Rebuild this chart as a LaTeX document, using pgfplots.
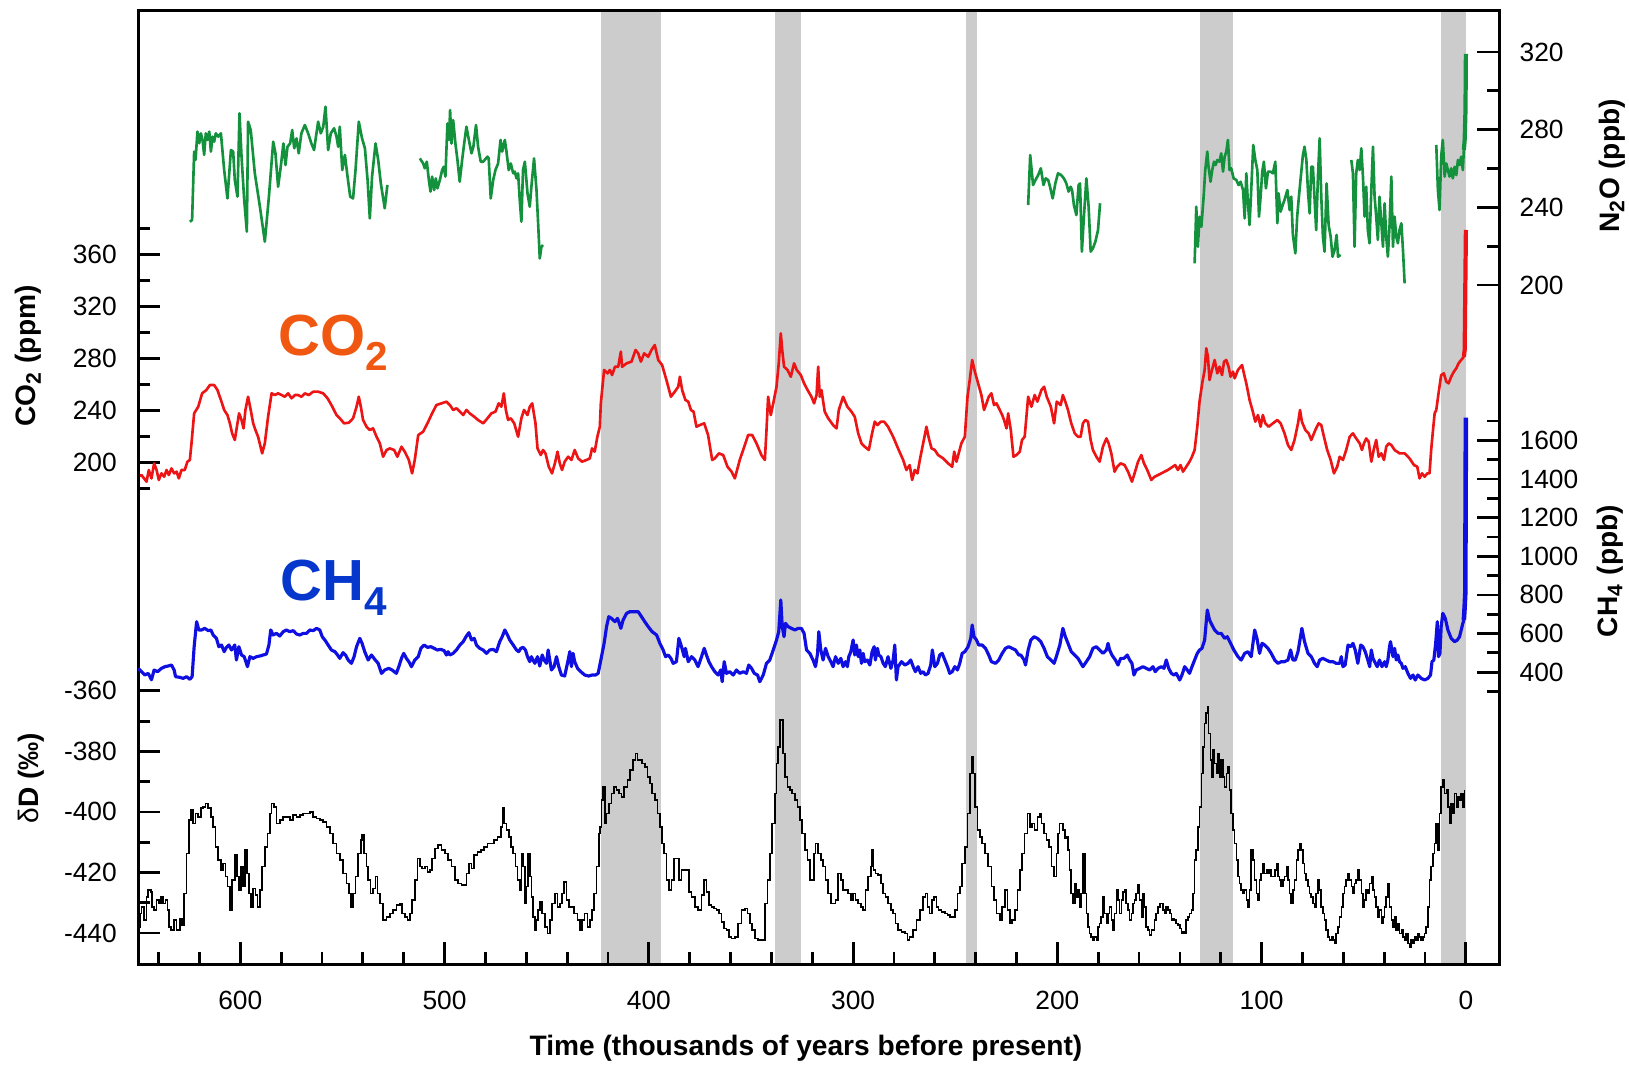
\documentclass[border=0pt]{standalone}
\usepackage{fontspec}
\setmainfont{Liberation Sans}
\usepackage{pgfplots}
\usepackage{pgfplotstable}
\pgfplotsset{compat=1.18}
\definecolor{bandgray}{RGB}{204,204,204}
\definecolor{co2red}{RGB}{236,20,20}
\definecolor{ch4line}{RGB}{15,15,225}
\definecolor{n2ogreen}{RGB}{20,145,60}
\definecolor{co2orange}{RGB}{240,88,18}
\definecolor{ch4blue}{RGB}{5,55,205}
\newcommand{\ticksfont}{\fontsize{7.5}{9}\selectfont}
\newcommand{\labfont}{\fontsize{8}{9.5}\selectfont\bfseries}
\newcommand{\bigfont}{\fontsize{16.5}{18}\selectfont\bfseries}

\pgfplotsset{
 base/.style={at={(0,0)}, anchor=south west, scale only axis,
  width=13.61cm, height=9.537cm, xmin=-16.3, xmax=650, x dir=reverse,
  tick align=inside, major tick length=0.22cm, minor tick length=0.12cm,
  every tick/.style={black, line width=0.8pt},
  axis line style={black, line width=0.8pt},
  tick label style={font=\ticksfont}},
 dataax/.style={base, axis x line=none, xtick=\empty},
}

% CO2 (ppm)
\pgfplotstableread[row sep=\\]{
x y\\
650.0 188.9\\ 648.4 190.2\\ 647.1 187.6\\ 645.9 185.1\\ 644.8 194.1\\ 643.5 187.6\\
642.2 199.2\\ 641.0 194.1\\ 639.9 186.4\\ 638.6 191.5\\ 637.3 188.9\\ 636.1 194.1\\
635.0 190.2\\ 633.7 195.3\\ 632.4 191.5\\ 631.2 192.8\\ 630.1 187.6\\ 628.8 194.1\\
627.2 194.1\\ 625.9 200.5\\ 624.7 201.8\\ 623.9 214.6\\ 622.6 237.7\\ 620.6 242.8\\
618.7 253.1\\ 616.6 255.7\\ 614.9 259.5\\ 612.8 259.5\\ 611.2 255.7\\ 609.5 248.0\\
607.9 240.3\\ 606.3 236.4\\ 605.1 230.0\\ 604.0 222.3\\ 602.7 217.2\\ 601.4 230.0\\
600.6 237.7\\ 599.4 232.6\\ 598.4 226.1\\ 597.5 240.3\\ 596.2 250.5\\ 594.9 240.3\\
593.7 230.0\\ 592.6 224.9\\ 591.3 219.7\\ 589.3 206.9\\ 588.0 214.6\\ 586.4 235.1\\
584.7 253.1\\ 583.1 251.8\\ 581.5 253.1\\ 579.8 251.8\\ 578.2 250.5\\ 576.6 253.1\\
574.9 249.3\\ 573.3 251.8\\ 571.7 251.8\\ 570.1 250.5\\ 568.4 253.1\\ 566.5 251.8\\
564.3 254.4\\ 561.9 254.4\\ 559.4 253.1\\ 557.3 249.3\\ 555.4 244.1\\ 552.9 236.4\\
551.3 233.9\\ 549.2 230.0\\ 546.9 230.5\\ 544.8 233.9\\ 543.1 242.8\\ 542.0 250.5\\
541.0 242.8\\ 539.9 232.6\\ 538.2 227.4\\ 536.6 224.9\\ 535.0 226.1\\ 533.3 219.7\\
531.7 214.6\\ 530.1 204.3\\ 528.4 209.5\\ 526.8 210.7\\ 524.7 209.5\\ 523.1 204.3\\
521.1 212.0\\ 519.5 208.2\\ 517.5 201.8\\ 515.9 191.5\\ 514.6 201.8\\ 512.9 221.0\\
510.5 223.6\\ 508.4 230.0\\ 506.1 237.7\\ 504.0 244.1\\ 501.5 245.4\\ 499.1 246.7\\
497.4 244.1\\ 495.8 240.3\\ 494.2 241.6\\ 492.5 239.0\\ 490.9 236.4\\ 489.3 240.3\\
487.7 237.7\\ 485.5 235.1\\ 483.6 232.6\\ 481.1 230.0\\ 479.0 233.9\\ 477.1 237.7\\
475.1 239.0\\ 473.5 245.4\\ 472.2 242.8\\ 471.0 253.1\\ 470.0 240.3\\ 468.9 232.6\\
467.6 233.9\\ 465.9 230.0\\ 464.0 219.7\\ 462.4 233.9\\ 461.1 240.3\\ 459.4 236.4\\
458.3 242.8\\ 457.1 245.4\\ 455.5 230.0\\ 454.5 210.7\\ 452.9 205.6\\ 451.8 209.5\\
450.6 206.9\\ 449.0 196.6\\ 447.4 191.5\\ 446.0 199.2\\ 444.7 208.2\\ 443.6 199.2\\
442.5 194.1\\ 441.2 200.5\\ 439.5 204.3\\ 437.9 201.8\\ 436.3 209.5\\ 434.6 203.0\\
432.7 200.5\\ 430.5 201.8\\ 428.9 203.0\\ 427.8 210.7\\ 426.5 208.2\\ 425.2 219.7\\
424.0 227.4\\ 423.5 245.4\\ 421.9 271.1\\ 420.2 268.5\\ 419.1 271.1\\ 418.0 267.2\\
416.6 273.6\\ 415.0 273.6\\ 413.7 285.2\\ 413.1 273.6\\ 410.9 276.2\\ 408.5 277.5\\
406.5 286.5\\ 405.2 283.9\\ 403.9 277.5\\ 402.3 283.9\\ 400.3 281.3\\ 398.7 286.5\\
397.1 290.3\\ 395.4 278.8\\ 393.5 274.9\\ 391.4 263.4\\ 389.2 250.5\\ 387.3 254.4\\
385.6 258.2\\ 384.8 265.9\\ 383.7 255.7\\ 382.1 248.0\\ 380.7 246.7\\ 379.4 240.3\\
378.1 239.0\\ 376.7 227.4\\ 375.0 228.7\\ 372.9 230.0\\ 371.0 221.0\\ 369.0 201.8\\
367.7 203.0\\ 365.7 206.9\\ 363.6 205.6\\ 361.5 196.6\\ 359.5 192.8\\ 357.9 187.6\\
355.5 201.8\\ 353.0 213.3\\ 351.4 221.0\\ 349.4 221.0\\ 347.3 214.6\\ 344.9 205.6\\
343.2 201.8\\ 342.4 224.9\\ 341.6 250.5\\ 340.3 236.4\\ 339.1 245.4\\ 337.5 258.2\\
336.4 276.2\\ 335.4 299.3\\ 334.7 286.5\\ 333.8 273.6\\ 332.1 271.1\\ 330.5 265.9\\
328.9 276.2\\ 327.6 271.1\\ 325.6 267.2\\ 324.0 260.8\\ 322.3 255.7\\ 320.4 250.5\\
319.1 245.4\\ 317.9 251.8\\ 317.1 273.6\\ 316.3 250.5\\ 315.5 255.7\\ 313.9 239.0\\
312.2 233.9\\ 309.8 228.7\\ 308.1 226.1\\ 307.0 240.3\\ 304.9 250.5\\ 302.8 242.8\\
300.8 239.0\\ 299.2 235.1\\ 297.5 222.3\\ 295.9 214.6\\ 294.3 212.0\\ 292.3 209.5\\
290.7 222.3\\ 289.4 231.3\\ 288.1 228.7\\ 286.4 231.3\\ 284.8 231.3\\ 282.9 227.4\\
280.4 219.7\\ 278.0 210.7\\ 275.5 201.8\\ 273.9 194.1\\ 272.3 197.9\\ 271.1 186.4\\
269.8 194.1\\ 268.5 191.5\\ 267.2 203.0\\ 265.7 214.6\\ 264.1 227.4\\ 262.9 218.4\\
261.6 210.7\\ 260.0 209.5\\ 258.4 205.6\\ 255.9 203.0\\ 253.5 199.2\\ 251.5 196.6\\
250.5 208.2\\ 249.4 200.5\\ 248.3 206.9\\ 247.0 214.6\\ 245.3 219.7\\ 244.0 250.5\\
242.9 263.4\\ 241.7 278.8\\ 240.4 269.8\\ 238.8 260.8\\ 237.2 251.8\\ 235.9 240.3\\
234.7 245.4\\ 233.6 250.5\\ 232.3 253.1\\ 231.0 244.1\\ 229.8 245.4\\ 228.2 240.3\\
227.0 236.4\\ 226.1 232.6\\ 224.9 226.1\\ 224.1 237.7\\ 222.8 224.9\\ 221.5 204.3\\
220.0 205.6\\ 218.4 208.2\\ 217.3 217.2\\ 216.0 219.7\\ 214.3 250.5\\ 212.7 242.8\\
211.1 251.8\\ 209.8 246.7\\ 207.8 255.7\\ 206.5 258.2\\ 205.2 250.5\\ 203.2 242.8\\
201.6 230.0\\ 200.3 246.7\\ 198.4 244.1\\ 197.3 251.8\\ 196.1 246.7\\ 194.8 240.3\\
193.2 230.0\\ 191.5 222.3\\ 189.9 219.7\\ 188.6 219.7\\ 187.5 230.0\\ 186.3 232.6\\
185.0 231.3\\ 183.7 217.2\\ 182.6 209.5\\ 180.9 204.3\\ 179.3 200.5\\ 177.7 212.0\\
176.0 218.4\\ 174.9 214.6\\ 173.6 206.9\\ 172.0 192.8\\ 170.7 196.6\\ 169.0 199.2\\
167.1 197.9\\ 165.4 192.8\\ 163.5 185.1\\ 162.2 191.5\\ 160.5 200.5\\ 158.9 205.6\\
157.6 199.2\\ 156.0 194.1\\ 154.0 186.4\\ 152.4 188.9\\ 149.1 191.5\\ 145.9 194.1\\
142.3 197.9\\ 141.0 194.1\\ 139.7 197.9\\ 138.5 192.8\\ 136.9 196.6\\ 135.3 200.5\\
134.1 204.3\\ 132.8 209.5\\ 131.5 227.4\\ 130.4 246.7\\ 129.1 260.8\\ 127.9 271.1\\
127.1 287.8\\ 126.3 281.3\\ 125.5 263.4\\ 124.3 271.1\\ 123.0 278.8\\ 121.7 268.5\\
120.6 273.6\\ 119.4 267.2\\ 118.4 277.5\\ 117.3 278.8\\ 116.2 273.6\\ 115.2 265.9\\
114.0 269.8\\ 113.2 264.7\\ 111.6 271.1\\ 109.6 274.9\\ 108.3 265.9\\ 107.5 260.8\\
105.9 248.0\\ 104.3 239.0\\ 103.1 231.3\\ 101.8 236.4\\ 100.5 227.4\\ 99.4 236.4\\
98.2 230.0\\ 96.6 227.4\\ 94.5 230.0\\ 92.3 232.6\\ 90.7 230.0\\ 88.8 222.3\\
87.1 213.3\\ 85.5 209.5\\ 83.9 217.2\\ 82.2 230.0\\ 81.2 240.3\\ 80.3 231.3\\
78.6 224.9\\ 77.0 222.3\\ 75.7 217.2\\ 73.7 224.9\\ 72.1 230.0\\ 70.8 228.7\\
69.5 219.7\\ 67.9 209.5\\ 66.2 201.8\\ 64.6 191.5\\ 63.0 196.6\\ 61.8 204.3\\
60.2 201.8\\ 58.6 209.5\\ 56.9 219.7\\ 55.3 222.3\\ 53.7 218.4\\ 52.0 214.6\\
50.9 209.5\\ 49.9 214.6\\ 48.8 218.4\\ 47.6 215.9\\ 46.3 200.5\\ 45.0 210.7\\
43.9 217.2\\ 42.7 204.3\\ 41.4 206.9\\ 40.1 201.8\\ 39.0 212.0\\ 37.8 214.6\\
36.5 213.3\\ 34.9 209.5\\ 32.5 206.9\\ 30.0 206.9\\ 27.6 203.0\\ 25.4 197.9\\
23.8 196.6\\ 22.7 187.6\\ 21.5 191.5\\ 20.2 188.9\\ 18.9 191.5\\ 17.8 191.5\\
17.0 209.5\\ 16.1 224.9\\ 15.3 237.7\\ 14.5 240.3\\ 13.4 253.1\\ 12.1 267.2\\
10.8 268.5\\ 9.6 262.1\\ 8.5 260.8\\ 7.2 265.9\\ 5.9 269.8\\ 4.7 272.4\\
3.6 276.2\\ 2.3 278.8\\ 1.0 281.3\\
}\coTable

% CH4 (ppb)
\pgfplotstableread[row sep=\\]{
x y\\
650.0 420.0\\ 648.4 402.7\\ 646.7 385.5\\ 645.1 394.1\\ 643.5 360.9\\ 642.2 411.4\\
640.5 402.7\\ 638.6 420.0\\ 636.9 428.6\\ 635.3 432.1\\ 633.7 437.2\\ 632.4 411.4\\
631.7 376.9\\ 629.6 373.4\\ 628.0 368.2\\ 626.3 376.9\\ 624.7 363.1\\ 623.6 376.9\\
622.6 532.1\\ 621.4 661.5\\ 620.3 618.4\\ 619.0 618.4\\ 617.4 627.0\\ 615.7 614.9\\
614.4 618.4\\ 613.3 592.5\\ 611.7 575.2\\ 610.5 532.1\\ 609.2 540.7\\ 607.9 506.2\\
606.8 528.6\\ 605.6 540.7\\ 604.3 514.9\\ 602.7 540.7\\ 601.9 463.1\\ 600.7 532.1\\
599.4 489.0\\ 598.1 480.4\\ 596.5 428.6\\ 595.3 480.4\\ 593.7 471.7\\ 592.1 480.4\\
590.4 483.8\\ 588.8 489.0\\ 587.2 494.2\\ 586.0 540.7\\ 585.1 618.4\\ 583.9 592.5\\
582.3 601.1\\ 580.7 587.3\\ 579.0 609.7\\ 577.4 618.4\\ 575.8 609.7\\ 574.1 614.9\\
572.5 597.7\\ 570.9 592.5\\ 569.2 601.1\\ 567.6 601.1\\ 566.0 618.4\\ 564.3 614.9\\
562.7 627.0\\ 561.1 618.4\\ 559.9 583.8\\ 558.6 566.6\\ 557.0 540.7\\ 555.4 514.9\\
553.7 506.2\\ 552.4 489.0\\ 551.3 471.7\\ 549.7 501.1\\ 548.5 489.0\\ 547.2 463.1\\
545.6 445.9\\ 544.3 480.4\\ 543.1 532.1\\ 541.5 575.2\\ 540.4 549.4\\ 539.1 506.2\\
537.4 463.1\\ 535.8 489.0\\ 534.2 466.6\\ 532.5 445.9\\ 530.9 394.1\\ 529.3 411.4\\
527.3 420.0\\ 525.7 411.4\\ 523.6 394.1\\ 522.4 428.6\\ 521.1 471.7\\ 520.0 497.6\\
518.7 471.7\\ 517.5 454.5\\ 516.2 428.6\\ 514.6 463.1\\ 512.9 480.4\\ 511.6 523.5\\
510.0 540.7\\ 508.4 528.6\\ 506.7 532.1\\ 505.1 523.5\\ 503.5 514.9\\ 501.9 518.3\\
500.2 511.4\\ 499.1 489.0\\ 498.3 506.2\\ 497.4 489.0\\ 495.8 497.6\\ 494.2 514.9\\
492.5 540.7\\ 490.9 558.0\\ 489.3 587.3\\ 488.1 604.5\\ 486.8 566.6\\ 485.5 575.2\\
484.4 540.7\\ 482.8 523.5\\ 481.1 514.9\\ 479.5 497.6\\ 477.9 514.9\\ 476.2 518.3\\
474.6 506.2\\ 473.0 558.0\\ 471.8 583.8\\ 470.5 618.4\\ 469.2 592.5\\ 468.1 566.6\\
466.4 540.7\\ 464.8 514.9\\ 463.7 506.2\\ 462.7 523.5\\ 461.6 528.6\\ 460.4 514.9\\
459.4 480.4\\ 458.3 454.5\\ 457.5 480.4\\ 456.7 463.1\\ 455.8 445.9\\ 454.5 480.4\\
453.4 432.1\\ 452.2 489.0\\ 451.3 463.1\\ 450.1 445.9\\ 449.3 514.9\\ 448.5 463.1\\
447.7 411.4\\ 446.4 428.6\\ 445.2 480.4\\ 444.1 428.6\\ 442.8 385.5\\ 441.2 380.3\\
439.5 463.1\\ 438.7 506.2\\ 437.9 428.6\\ 437.1 497.6\\ 436.3 454.5\\ 434.9 420.0\\
433.3 402.7\\ 431.4 385.5\\ 429.4 380.3\\ 427.8 385.5\\ 426.1 385.5\\ 424.8 394.1\\
423.5 463.1\\ 421.9 549.4\\ 420.7 635.6\\ 419.6 687.4\\ 418.3 678.7\\ 416.6 661.5\\
415.3 678.7\\ 413.7 627.0\\ 412.6 670.1\\ 410.9 704.6\\ 409.3 713.2\\ 406.9 713.2\\
405.2 713.2\\ 403.6 687.4\\ 402.0 661.5\\ 400.3 635.6\\ 398.4 609.7\\ 396.2 592.5\\
394.6 549.4\\ 393.0 514.9\\ 391.8 480.4\\ 390.5 489.0\\ 389.2 471.7\\ 388.1 445.9\\
386.5 454.5\\ 385.3 575.2\\ 384.0 532.1\\ 382.7 480.4\\ 382.1 523.5\\ 380.7 454.5\\
379.1 480.4\\ 377.5 463.1\\ 375.9 428.6\\ 374.2 480.4\\ 372.9 523.5\\ 371.8 489.0\\
370.6 454.5\\ 369.3 428.6\\ 367.7 402.7\\ 366.1 385.5\\ 364.8 411.4\\ 364.1 350.9\\
363.1 454.5\\ 362.0 394.1\\ 360.4 402.7\\ 358.7 385.5\\ 357.1 411.4\\ 355.5 394.1\\
353.8 402.7\\ 352.2 394.1\\ 351.1 437.2\\ 349.7 420.0\\ 348.4 394.1\\ 346.8 385.5\\
345.7 350.9\\ 344.0 385.5\\ 342.4 445.9\\ 340.8 463.1\\ 339.1 514.9\\ 337.5 566.6\\
336.4 609.7\\ 335.4 773.6\\ 334.7 635.6\\ 333.8 583.8\\ 333.1 652.9\\ 331.8 635.6\\
330.2 627.0\\ 328.5 618.4\\ 326.9 627.0\\ 325.3 627.0\\ 324.0 601.1\\ 322.8 514.9\\
321.2 497.6\\ 319.6 463.1\\ 318.4 428.6\\ 317.4 497.6\\ 316.8 609.7\\ 315.8 514.9\\
314.7 463.1\\ 313.5 523.5\\ 312.2 480.4\\ 310.9 454.5\\ 309.8 428.6\\ 308.6 480.4\\
307.3 445.9\\ 306.0 471.7\\ 304.9 428.6\\ 303.7 454.5\\ 302.8 428.6\\ 302.1 480.4\\
301.1 506.2\\ 300.0 566.6\\ 299.2 489.0\\ 298.4 540.7\\ 297.5 480.4\\ 296.7 514.9\\
295.9 445.9\\ 295.1 497.6\\ 294.3 454.5\\ 293.0 463.1\\ 291.8 437.2\\ 290.7 506.2\\
289.7 532.1\\ 289.1 463.1\\ 288.1 523.5\\ 287.4 489.0\\ 286.4 480.4\\ 285.3 445.9\\
284.2 428.6\\ 282.9 480.4\\ 281.5 420.0\\ 280.4 463.1\\ 279.6 540.7\\ 278.8 359.6\\
278.0 428.6\\ 276.3 454.5\\ 274.7 437.2\\ 273.1 445.9\\ 271.8 463.1\\ 270.6 428.6\\
269.5 402.7\\ 268.2 428.6\\ 266.9 394.1\\ 265.7 402.7\\ 264.6 385.5\\ 263.3 394.1\\
262.0 437.2\\ 261.2 514.9\\ 260.0 428.6\\ 258.7 445.9\\ 257.6 489.0\\ 256.4 497.6\\
255.1 463.1\\ 253.8 428.6\\ 252.7 394.1\\ 251.5 402.7\\ 250.2 428.6\\ 248.9 411.4\\
247.8 445.9\\ 246.6 497.6\\ 245.3 506.2\\ 243.7 532.1\\ 242.4 575.2\\ 241.7 644.2\\
240.8 583.8\\ 239.6 566.6\\ 238.5 540.7\\ 236.8 540.7\\ 235.2 523.5\\ 233.6 489.0\\
232.3 454.5\\ 230.3 445.9\\ 228.7 463.1\\ 227.0 497.6\\ 225.4 523.5\\ 223.8 532.1\\
222.2 523.5\\ 220.5 514.9\\ 218.9 489.0\\ 217.9 489.0\\ 216.3 463.1\\ 215.6 437.2\\
214.3 514.9\\ 213.0 566.6\\ 211.4 583.8\\ 209.8 575.2\\ 208.1 558.0\\ 206.5 523.5\\
204.9 480.4\\ 203.2 463.1\\ 201.6 445.9\\ 200.5 480.4\\ 198.8 540.7\\ 197.3 627.0\\
196.1 583.8\\ 194.8 549.4\\ 193.2 506.2\\ 191.5 489.0\\ 189.9 471.7\\ 187.5 428.6\\
185.8 454.5\\ 184.2 480.4\\ 182.6 523.5\\ 180.9 532.1\\ 179.3 514.9\\ 177.7 497.6\\
176.0 514.9\\ 175.2 549.4\\ 174.4 514.9\\ 173.3 489.0\\ 171.6 463.1\\ 170.3 437.2\\
169.0 471.7\\ 167.4 471.7\\ 165.8 489.0\\ 164.6 463.1\\ 163.5 445.9\\ 162.5 385.5\\
161.4 411.4\\ 159.7 420.0\\ 158.1 428.6\\ 156.5 420.0\\ 154.8 411.4\\ 153.2 428.6\\
152.1 402.7\\ 150.7 420.0\\ 149.1 428.6\\ 147.8 420.0\\ 146.7 463.1\\ 145.5 420.0\\
144.2 394.1\\ 142.9 385.5\\ 141.8 394.1\\ 140.1 359.6\\ 139.0 385.5\\ 137.7 428.6\\
136.4 411.4\\ 135.3 394.1\\ 134.1 428.6\\ 132.8 463.1\\ 131.5 497.6\\ 130.4 514.9\\
129.2 523.5\\ 127.9 566.6\\ 126.6 721.9\\ 125.5 670.1\\ 124.3 644.2\\ 123.0 618.4\\
121.4 601.1\\ 119.8 601.1\\ 118.1 575.2\\ 116.8 583.8\\ 115.2 549.4\\ 113.6 514.9\\
111.6 480.4\\ 110.0 463.1\\ 108.3 497.6\\ 106.7 506.2\\ 105.1 480.4\\ 103.4 618.4\\
102.3 575.2\\ 101.0 497.6\\ 99.8 549.4\\ 98.5 540.7\\ 96.9 523.5\\ 95.3 497.6\\
93.6 463.1\\ 92.0 445.9\\ 90.4 454.5\\ 88.8 454.5\\ 87.1 463.1\\ 85.8 514.9\\
84.7 463.1\\ 83.5 463.1\\ 82.2 506.2\\ 81.1 575.2\\ 80.3 627.0\\ 79.0 558.0\\
77.3 497.6\\ 75.7 480.4\\ 74.1 445.9\\ 72.8 428.6\\ 71.6 463.1\\ 70.0 471.7\\
68.4 463.1\\ 66.7 454.5\\ 65.1 454.5\\ 63.5 445.9\\ 61.8 445.9\\ 61.0 480.4\\
60.2 428.6\\ 59.1 437.2\\ 57.7 540.7\\ 56.4 532.1\\ 55.3 549.4\\ 54.2 514.9\\
52.9 445.9\\ 51.5 540.7\\ 50.4 532.1\\ 49.3 506.2\\ 48.0 463.1\\ 47.1 428.6\\
46.3 514.9\\ 45.5 471.7\\ 44.7 454.5\\ 43.4 428.6\\ 42.3 463.1\\ 41.1 428.6\\
39.8 454.5\\ 39.0 428.6\\ 38.2 463.1\\ 37.4 532.1\\ 36.9 558.0\\ 35.7 480.4\\
34.9 523.5\\ 34.1 463.1\\ 33.3 489.0\\ 32.5 454.5\\ 31.6 445.9\\ 30.8 420.0\\
29.7 428.6\\ 28.4 394.1\\ 27.1 368.2\\ 25.9 385.5\\ 24.8 359.6\\ 23.5 385.5\\
21.9 368.2\\ 20.2 359.6\\ 18.6 368.2\\ 17.3 385.5\\ 16.6 454.5\\ 15.7 463.1\\
14.8 549.4\\ 14.0 661.5\\ 13.4 480.4\\ 12.7 497.6\\ 12.1 635.6\\ 11.3 704.6\\
10.1 678.7\\ 8.8 618.4\\ 7.2 575.2\\ 5.5 558.0\\ 4.2 566.6\\ 3.1 583.8\\
1.9 635.6\\ 1.5 652.9\\ 1.0 670.1\\
}\chTable

% N2O (ppb), gaps as nan
\pgfplotstableread[row sep=\\]{
x y\\
624.7 232.6\\ 623.6 233.5\\ 622.6 268.7\\ 621.9 264.4\\ 621.0 279.0\\ 620.1 273.0\\
619.3 278.1\\ 618.5 274.7\\ 617.7 267.0\\ 616.9 278.1\\ 616.1 274.7\\ 615.2 279.0\\
614.4 268.7\\ 613.6 276.4\\ 612.8 273.8\\ 612.0 278.1\\ 610.8 276.4\\ 609.5 278.1\\
607.9 259.2\\ 606.3 244.6\\ 604.6 269.5\\ 603.5 268.7\\ 602.7 254.1\\ 601.4 245.5\\
600.4 288.4\\ 599.4 266.1\\ 598.1 243.8\\ 596.8 227.5\\ 596.2 284.1\\ 594.9 279.8\\
592.9 257.5\\ 590.4 240.3\\ 588.0 222.3\\ 586.0 245.5\\ 583.9 273.8\\ 582.8 267.8\\
581.5 250.6\\ 580.2 260.9\\ 578.9 272.9\\ 577.9 261.8\\ 576.9 271.2\\ 575.6 272.9\\
574.6 279.8\\ 573.6 270.4\\ 572.5 275.5\\ 571.4 267.8\\ 570.1 278.1\\ 568.4 282.4\\
566.8 278.1\\ 565.2 272.9\\ 563.9 269.5\\ 561.9 284.1\\ 560.6 278.1\\ 559.4 281.5\\
558.3 291.8\\ 557.0 269.5\\ 555.7 278.1\\ 554.1 280.7\\ 552.9 276.4\\ 552.1 271.2\\
551.3 281.5\\ 550.1 259.2\\ 548.8 267.0\\ 547.5 255.8\\ 546.2 245.5\\ 544.8 244.6\\
543.6 259.2\\ 542.0 284.1\\ 540.4 275.5\\ 539.0 270.4\\ 537.7 254.1\\ 536.6 234.3\\
535.5 255.8\\ 533.8 272.9\\ 532.5 264.4\\ 531.2 252.3\\ 529.3 239.5\\ 528.0 251.5\\
nan nan\\
512.1 265.2\\ 510.5 262.6\\ 509.7 260.1\\ 508.7 263.5\\ 507.7 254.1\\ 506.9 248.1\\
506.1 255.8\\ 505.1 248.9\\ 504.3 254.9\\ 503.5 249.8\\ 502.3 254.1\\ 501.2 259.2\\
500.4 260.9\\ 499.6 255.8\\ 498.6 283.2\\ 497.8 274.7\\ 497.3 290.1\\ 496.6 272.9\\
495.8 284.9\\ 494.7 272.9\\ 493.7 264.4\\ 492.6 253.2\\ 491.4 264.4\\ 490.4 272.9\\
489.3 281.5\\ 488.1 274.7\\ 486.8 267.8\\ 485.9 271.2\\ 484.6 282.4\\ 483.6 271.2\\
482.3 263.5\\ 481.1 263.5\\ 479.0 266.1\\ 478.4 265.2\\ 477.4 244.6\\ 476.2 254.1\\
475.1 259.2\\ 473.8 262.6\\ 472.6 274.7\\ 471.8 268.7\\ 470.5 274.7\\ 469.7 268.7\\
468.6 259.2\\ 467.6 262.6\\ 466.4 257.5\\ 465.6 258.4\\ 464.8 254.9\\ 464.0 257.5\\
463.2 243.8\\ 462.4 232.6\\ 461.6 259.2\\ 460.7 263.5\\ 459.4 247.2\\ 458.3 240.3\\
457.5 250.6\\ 456.2 265.2\\ 455.0 248.9\\ 454.2 231.8\\ 453.4 213.7\\ 452.6 219.7\\
451.8 220.6\\
nan nan\\
214.3 241.2\\ 213.3 266.9\\ 211.9 251.5\\ 210.7 254.1\\ 209.4 256.6\\ 208.1 260.1\\
206.8 251.5\\ 205.7 254.9\\ 204.5 254.1\\ 203.6 250.6\\ 202.3 244.6\\ 201.0 252.3\\
199.7 257.5\\ 198.1 256.6\\ 196.8 254.9\\ 195.6 252.3\\ 194.5 248.1\\ 193.5 250.6\\
192.8 248.9\\ 191.9 241.2\\ 190.7 236.0\\ 189.6 251.5\\ 188.9 252.3\\ 188.0 217.2\\
187.0 235.2\\ 185.8 254.9\\ 184.7 240.3\\ 183.7 217.2\\ 182.6 218.9\\ 181.4 222.3\\
180.1 228.3\\ 179.1 242.1\\
nan nan\\
132.8 211.2\\ 132.0 240.3\\ 131.2 219.7\\ 130.4 235.2\\ 129.5 230.0\\ 128.4 245.5\\
127.6 259.2\\ 126.6 268.7\\ 126.0 260.9\\ 125.0 253.2\\ 124.2 259.2\\ 123.3 263.5\\
122.5 261.8\\ 121.7 264.4\\ 120.6 263.5\\ 119.8 267.8\\ 118.9 258.4\\ 118.1 266.1\\
117.3 268.7\\ 116.5 274.7\\ 115.7 259.2\\ 114.9 260.1\\ 113.7 254.9\\ 112.4 254.1\\
111.3 251.5\\ 110.3 253.2\\ 109.1 248.9\\ 108.3 234.3\\ 107.5 257.5\\ 106.7 242.1\\
105.9 230.9\\ 105.1 248.9\\ 104.1 272.1\\ 103.1 264.4\\ 102.1 259.2\\ 101.3 235.2\\
100.5 245.5\\ 99.7 258.4\\ 98.9 263.5\\ 97.9 249.8\\ 96.9 258.4\\ 95.6 258.4\\
94.5 257.5\\ 93.3 263.5\\ 92.3 231.8\\ 91.7 247.2\\ 90.7 237.8\\ 89.7 241.2\\
88.8 243.8\\ 87.4 248.9\\ 86.3 238.6\\ 85.5 245.5\\ 84.7 225.8\\ 83.5 216.3\\
82.6 235.2\\ 81.9 243.8\\ 80.9 254.9\\ 79.8 266.9\\ 79.0 271.2\\ 78.1 264.4\\
77.3 248.1\\ 76.5 236.9\\ 75.7 260.9\\ 74.9 260.9\\ 74.1 244.6\\ 73.3 228.3\\
72.4 256.6\\ 71.6 275.5\\ 70.8 245.5\\ 70.0 224.9\\ 69.2 217.2\\ 68.2 252.3\\
67.2 230.9\\ 66.2 224.9\\ 65.3 214.6\\ 64.3 218.0\\ 63.3 225.8\\ 62.6 214.6\\
61.3 215.5\\
nan nan\\
56.1 264.4\\ 55.3 257.5\\ 54.5 219.7\\ 53.7 257.5\\ 52.9 264.4\\ 52.0 259.2\\
51.2 270.4\\ 50.4 255.8\\ 49.6 235.2\\ 48.8 250.6\\ 48.0 228.3\\ 47.2 221.5\\
46.3 248.9\\ 45.5 271.2\\ 44.7 245.5\\ 43.9 235.2\\ 43.1 223.2\\ 42.3 245.5\\
41.4 231.8\\ 40.6 219.7\\ 39.8 242.1\\ 39.0 224.9\\ 38.2 214.6\\ 37.4 230.0\\
36.5 255.8\\ 35.7 219.7\\ 34.9 235.2\\ 34.1 224.9\\ 33.3 221.5\\ 32.5 228.3\\
31.6 231.8\\ 30.8 218.0\\ 30.0 200.9\\
nan nan\\
14.5 272.1\\ 13.7 248.9\\ 12.9 238.6\\ 12.1 266.1\\ 11.3 274.7\\ 10.4 255.8\\
9.6 262.6\\ 8.8 259.2\\ 8.0 255.8\\ 7.2 260.1\\ 6.4 254.9\\ 5.5 260.9\\
4.7 256.6\\ 3.9 264.4\\ 3.1 261.8\\ 2.3 266.1\\ 1.5 259.2\\ 1.0 269.5\\
}\noTable

% deltaD (permil)
\pgfplotstableread[row sep=\\]{
x y\\
650.0 -438.0\\ 649.2 -433.6\\ 648.4 -431.4\\ 647.1 -435.8\\ 645.9 -428.1\\ 645.1 -425.8\\
643.8 -426.4\\ 643.1 -431.4\\ 642.2 -432.5\\ 641.0 -429.2\\ 639.9 -430.3\\ 638.9 -428.1\\
637.8 -430.3\\ 636.6 -429.2\\ 635.6 -432.5\\ 635.0 -438.0\\ 634.0 -439.1\\ 632.4 -435.8\\
631.2 -439.1\\ 629.6 -435.2\\ 628.5 -437.4\\ 627.5 -427.0\\ 626.3 -413.7\\ 625.2 -402.7\\
624.2 -399.4\\ 623.1 -403.8\\ 621.9 -400.5\\ 620.6 -401.6\\ 619.3 -398.8\\ 618.2 -398.3\\
617.0 -397.2\\ 615.7 -398.8\\ 614.4 -401.6\\ 613.3 -404.9\\ 612.1 -411.5\\ 610.8 -415.9\\
609.5 -419.2\\ 608.4 -417.0\\ 607.3 -421.4\\ 606.3 -424.7\\ 605.1 -432.5\\ 604.0 -422.5\\
602.7 -414.3\\ 601.7 -421.4\\ 600.7 -425.8\\ 599.7 -418.1\\ 598.6 -424.7\\ 597.8 -412.6\\
596.8 -420.3\\ 595.8 -427.0\\ 594.9 -431.4\\ 593.7 -425.3\\ 592.6 -427.5\\ 591.6 -431.4\\
590.4 -425.8\\ 589.3 -418.1\\ 588.0 -411.5\\ 586.7 -407.1\\ 585.6 -400.5\\ 584.7 -397.2\\
583.4 -398.3\\ 582.3 -403.8\\ 580.7 -402.7\\ 579.0 -401.6\\ 577.4 -401.6\\ 575.8 -402.7\\
574.1 -401.1\\ 572.5 -401.6\\ 570.9 -401.1\\ 569.2 -400.5\\ 567.6 -400.5\\ 566.0 -400.0\\
564.3 -401.6\\ 562.7 -402.2\\ 561.1 -402.7\\ 559.4 -403.3\\ 557.8 -404.9\\ 556.2 -407.1\\
554.6 -410.4\\ 552.9 -413.7\\ 551.3 -415.9\\ 549.7 -420.3\\ 548.0 -423.6\\ 546.9 -427.0\\
545.9 -431.4\\ 544.8 -427.0\\ 543.6 -421.4\\ 542.3 -413.7\\ 541.0 -409.3\\ 540.4 -407.7\\
539.4 -413.7\\ 538.2 -418.1\\ 537.4 -422.5\\ 536.3 -427.0\\ 535.0 -425.3\\ 533.8 -421.4\\
532.8 -427.0\\ 531.7 -430.3\\ 530.1 -435.8\\ 528.4 -434.7\\ 526.8 -433.6\\ 525.2 -432.5\\
523.6 -430.8\\ 521.9 -430.3\\ 520.8 -433.6\\ 519.5 -434.7\\ 518.2 -435.8\\ 517.0 -433.6\\
515.9 -429.2\\ 514.6 -422.5\\ 513.3 -415.4\\ 512.1 -418.1\\ 511.0 -418.7\\ 509.7 -418.1\\
508.4 -419.8\\ 507.2 -419.2\\ 506.1 -415.4\\ 504.8 -412.1\\ 503.2 -411.0\\ 501.5 -412.6\\
499.9 -413.7\\ 498.3 -415.9\\ 496.6 -418.1\\ 495.0 -422.5\\ 493.4 -423.6\\ 491.7 -424.2\\
490.4 -424.2\\ 489.3 -420.3\\ 488.1 -417.0\\ 486.8 -418.7\\ 485.5 -414.3\\ 483.9 -413.2\\
482.3 -412.6\\ 480.6 -411.5\\ 479.0 -410.4\\ 477.4 -410.4\\ 475.7 -409.3\\ 474.1 -408.2\\
472.5 -404.9\\ 471.7 -398.8\\ 470.9 -403.8\\ 469.7 -406.0\\ 468.6 -408.2\\ 467.6 -411.5\\
466.4 -413.7\\ 465.3 -418.1\\ 464.3 -422.5\\ 463.2 -425.8\\ 462.4 -413.7\\ 461.6 -418.1\\
460.7 -430.3\\ 459.9 -424.7\\ 459.1 -413.7\\ 458.3 -421.4\\ 457.5 -428.1\\ 456.7 -434.7\\
455.8 -439.1\\ 455.0 -435.8\\ 454.2 -432.5\\ 453.4 -429.7\\ 452.2 -433.6\\ 450.9 -438.0\\
449.6 -440.2\\ 448.5 -435.8\\ 447.4 -430.3\\ 446.0 -427.0\\ 444.7 -431.4\\ 443.6 -430.3\\
442.5 -427.0\\ 441.5 -423.1\\ 440.3 -429.2\\ 439.2 -431.4\\ 437.9 -431.4\\ 436.6 -433.6\\
434.9 -435.8\\ 433.8 -439.1\\ 432.7 -435.8\\ 431.4 -433.6\\ 430.1 -438.0\\ 428.9 -435.8\\
427.8 -432.5\\ 426.8 -427.0\\ 425.7 -418.1\\ 424.5 -407.1\\ 424.0 -404.9\\ 423.2 -396.1\\
422.4 -391.7\\ 421.5 -403.8\\ 420.7 -400.5\\ 419.6 -397.2\\ 418.3 -393.9\\ 417.0 -391.7\\
415.8 -392.8\\ 414.7 -393.9\\ 413.4 -395.0\\ 412.1 -391.7\\ 410.4 -389.5\\ 409.3 -386.2\\
407.7 -382.9\\ 406.5 -380.7\\ 405.5 -382.9\\ 404.4 -382.9\\ 403.3 -384.0\\ 402.0 -385.1\\
400.7 -388.4\\ 399.5 -390.6\\ 398.4 -393.9\\ 397.1 -396.1\\ 395.8 -400.5\\ 394.6 -404.9\\
393.5 -410.4\\ 392.5 -413.7\\ 391.4 -422.5\\ 390.2 -425.8\\ 388.9 -422.5\\ 387.6 -415.4\\
386.5 -415.4\\ 385.3 -422.5\\ 384.0 -419.2\\ 382.7 -419.2\\ 381.6 -419.2\\ 380.4 -426.4\\
379.1 -428.1\\ 377.5 -431.4\\ 375.9 -432.5\\ 374.2 -427.5\\ 372.9 -422.5\\ 371.8 -426.4\\
370.6 -430.8\\ 369.3 -431.4\\ 368.0 -431.9\\ 366.9 -432.5\\ 365.7 -433.6\\ 364.4 -436.3\\
363.1 -438.5\\ 362.0 -439.1\\ 360.8 -441.3\\ 359.5 -441.8\\ 357.9 -441.3\\ 356.3 -436.9\\
354.6 -432.5\\ 353.0 -431.9\\ 351.7 -433.6\\ 350.6 -436.9\\ 349.4 -439.1\\ 348.1 -441.8\\
346.5 -442.4\\ 344.9 -442.4\\ 343.2 -430.3\\ 341.9 -422.5\\ 340.8 -413.7\\ 339.6 -403.8\\
338.3 -393.9\\ 337.5 -384.0\\ 336.7 -378.5\\ 335.9 -369.6\\ 335.1 -369.6\\ 334.2 -380.7\\
333.4 -388.4\\ 332.1 -391.7\\ 331.0 -392.8\\ 329.8 -393.9\\ 328.5 -396.1\\ 327.2 -398.3\\
326.1 -402.7\\ 324.9 -407.1\\ 323.6 -412.6\\ 322.3 -415.9\\ 321.2 -422.5\\ 320.4 -422.5\\
319.1 -413.7\\ 318.4 -410.4\\ 317.1 -413.7\\ 315.8 -415.9\\ 314.7 -418.1\\ 313.5 -422.5\\
312.2 -427.0\\ 310.9 -430.3\\ 309.8 -430.3\\ 308.6 -429.2\\ 307.3 -420.3\\ 306.0 -422.5\\
304.9 -425.8\\ 303.7 -425.8\\ 302.4 -427.0\\ 301.1 -429.2\\ 300.0 -427.0\\ 298.8 -429.2\\
297.5 -430.3\\ 296.2 -431.4\\ 295.1 -432.5\\ 293.9 -425.8\\ 292.6 -421.4\\ 291.3 -418.1\\
290.7 -412.6\\ 290.0 -419.2\\ 289.1 -420.3\\ 287.7 -420.9\\ 286.4 -423.6\\ 285.3 -427.0\\
284.2 -428.1\\ 282.9 -430.3\\ 281.5 -432.5\\ 280.4 -433.6\\ 279.3 -436.9\\ 278.0 -439.1\\
276.3 -439.6\\ 274.7 -440.2\\ 273.4 -442.4\\ 272.3 -441.3\\ 270.6 -439.1\\ 269.0 -435.8\\
267.3 -432.5\\ 265.7 -428.1\\ 264.6 -427.0\\ 263.6 -431.4\\ 262.5 -433.6\\ 261.3 -429.2\\
260.3 -428.1\\ 259.2 -431.4\\ 258.1 -432.5\\ 256.7 -433.0\\ 255.1 -433.6\\ 253.8 -434.1\\
252.7 -434.7\\ 251.5 -434.7\\ 250.2 -432.5\\ 248.9 -427.0\\ 247.8 -424.7\\ 246.6 -417.0\\
245.3 -411.5\\ 244.0 -400.5\\ 242.9 -387.3\\ 242.1 -381.8\\ 241.2 -387.3\\ 240.4 -398.3\\
239.1 -406.0\\ 238.0 -408.2\\ 236.8 -410.4\\ 235.5 -413.7\\ 233.9 -418.1\\ 232.3 -424.7\\
231.0 -429.2\\ 229.8 -433.6\\ 228.2 -435.8\\ 227.0 -431.4\\ 225.7 -425.8\\ 224.4 -432.5\\
223.3 -436.9\\ 222.2 -435.8\\ 220.8 -432.5\\ 219.5 -425.8\\ 218.4 -419.2\\ 217.3 -413.7\\
216.0 -407.1\\ 214.7 -400.5\\ 213.5 -404.9\\ 212.4 -403.8\\ 211.1 -406.0\\ 209.8 -401.6\\
208.6 -400.5\\ 207.8 -403.8\\ 206.5 -407.1\\ 205.3 -409.3\\ 204.2 -411.5\\ 202.9 -418.1\\
201.6 -421.4\\ 200.5 -413.7\\ 199.7 -407.1\\ 198.9 -403.8\\ 198.1 -403.8\\ 197.3 -406.0\\
196.4 -408.8\\ 195.6 -408.2\\ 194.8 -412.6\\ 194.0 -419.2\\ 193.2 -427.0\\ 192.4 -430.3\\
191.5 -423.6\\ 190.7 -428.1\\ 189.9 -425.8\\ 189.1 -431.4\\ 188.3 -427.0\\ 187.5 -413.7\\
186.6 -427.0\\ 185.8 -433.6\\ 185.0 -438.0\\ 184.2 -440.2\\ 183.4 -441.3\\ 182.6 -442.4\\
181.8 -441.3\\ 180.9 -442.4\\ 180.1 -438.0\\ 179.3 -436.9\\ 178.5 -434.7\\ 177.7 -428.1\\
176.9 -433.6\\ 176.0 -436.9\\ 175.2 -433.6\\ 174.4 -431.4\\ 173.6 -435.8\\ 172.8 -439.1\\
172.0 -433.6\\ 171.1 -425.8\\ 170.3 -429.2\\ 169.5 -433.6\\ 168.7 -429.2\\ 167.9 -426.4\\
167.1 -425.8\\ 166.3 -430.3\\ 165.4 -432.5\\ 164.6 -435.8\\ 163.8 -433.6\\ 163.0 -430.3\\
162.2 -429.2\\ 161.4 -427.0\\ 160.5 -424.2\\ 159.7 -429.2\\ 158.9 -434.7\\ 158.1 -427.0\\
157.3 -431.4\\ 156.5 -438.0\\ 155.6 -439.1\\ 154.8 -440.7\\ 154.0 -439.1\\ 153.2 -439.1\\
152.4 -435.8\\ 151.6 -433.6\\ 150.7 -431.4\\ 149.9 -430.3\\ 149.1 -430.3\\ 148.3 -432.5\\
147.5 -433.6\\ 146.7 -431.4\\ 145.9 -432.5\\ 145.0 -433.6\\ 144.2 -435.8\\ 143.4 -435.2\\
142.6 -435.8\\ 141.8 -436.9\\ 141.0 -437.4\\ 140.1 -438.5\\ 139.3 -440.2\\ 138.5 -439.6\\
137.7 -440.2\\ 136.9 -435.8\\ 136.1 -434.7\\ 135.3 -433.6\\ 134.4 -432.5\\ 133.6 -427.0\\
132.8 -415.9\\ 132.0 -412.6\\ 131.2 -404.9\\ 130.4 -398.3\\ 129.5 -387.3\\ 128.7 -378.5\\
127.9 -370.8\\ 127.1 -367.4\\ 126.6 -365.2\\ 126.0 -374.1\\ 125.0 -382.9\\ 124.3 -388.4\\
123.7 -379.6\\ 123.0 -384.0\\ 122.2 -387.3\\ 121.4 -380.7\\ 120.6 -388.4\\ 119.8 -382.9\\
118.9 -388.4\\ 118.1 -391.7\\ 117.3 -387.3\\ 116.5 -385.1\\ 115.7 -392.8\\ 114.9 -400.5\\
114.0 -406.0\\ 113.2 -410.4\\ 112.4 -415.9\\ 111.6 -421.4\\ 110.8 -423.6\\ 110.0 -425.8\\
109.1 -427.0\\ 108.3 -425.8\\ 107.5 -429.2\\ 106.7 -431.4\\ 105.9 -425.8\\ 105.1 -412.6\\
104.3 -415.9\\ 103.4 -422.5\\ 102.6 -427.0\\ 101.8 -429.2\\ 101.0 -422.5\\ 100.2 -420.3\\
99.4 -417.0\\ 98.5 -420.3\\ 97.7 -419.2\\ 96.9 -420.3\\ 96.1 -419.2\\ 95.3 -421.4\\
94.5 -421.4\\ 93.6 -419.2\\ 92.8 -417.0\\ 92.0 -421.4\\ 91.2 -422.5\\ 90.4 -424.7\\
89.6 -422.5\\ 88.8 -421.4\\ 87.9 -418.1\\ 87.1 -422.5\\ 86.3 -427.0\\ 85.5 -430.3\\
84.7 -425.8\\ 83.9 -422.5\\ 83.0 -415.9\\ 82.2 -412.6\\ 81.4 -410.4\\ 80.6 -412.6\\
79.8 -417.0\\ 79.0 -420.3\\ 78.2 -422.5\\ 77.3 -424.7\\ 76.5 -427.0\\ 75.7 -428.1\\
74.9 -430.3\\ 74.1 -431.4\\ 73.3 -427.0\\ 72.4 -422.5\\ 71.6 -425.8\\ 70.8 -431.4\\
70.0 -433.6\\ 69.2 -435.8\\ 68.4 -439.1\\ 67.5 -441.3\\ 66.7 -442.4\\ 65.9 -441.3\\
65.1 -442.4\\ 64.3 -443.5\\ 63.5 -440.2\\ 62.6 -438.0\\ 61.8 -434.7\\ 61.0 -431.4\\
60.2 -427.0\\ 59.4 -424.7\\ 58.6 -422.5\\ 57.7 -420.3\\ 56.9 -422.5\\ 56.1 -424.7\\
55.3 -427.0\\ 54.5 -423.6\\ 53.7 -422.5\\ 52.9 -419.2\\ 52.0 -422.5\\ 51.2 -427.0\\
50.4 -431.4\\ 49.6 -429.2\\ 48.8 -425.8\\ 48.0 -427.0\\ 47.1 -423.6\\ 46.3 -421.4\\
45.5 -425.8\\ 44.7 -428.1\\ 43.9 -431.4\\ 43.1 -434.7\\ 42.3 -432.5\\ 41.4 -436.9\\
40.6 -434.7\\ 39.8 -431.4\\ 39.0 -428.1\\ 38.2 -423.6\\ 37.4 -431.4\\ 36.5 -435.8\\
35.7 -438.0\\ 34.9 -434.7\\ 34.1 -439.1\\ 33.3 -436.9\\ 32.5 -440.2\\ 31.6 -439.1\\
30.8 -441.3\\ 30.0 -442.4\\ 29.2 -440.2\\ 28.4 -443.5\\ 27.6 -444.6\\ 26.8 -442.4\\
25.9 -443.5\\ 25.1 -441.3\\ 24.3 -442.4\\ 23.5 -440.2\\ 22.7 -441.3\\ 21.9 -442.4\\
21.1 -441.3\\ 20.2 -440.2\\ 19.4 -438.0\\ 18.6 -431.4\\ 17.8 -422.5\\ 17.0 -418.1\\
16.1 -413.7\\ 15.3 -410.4\\ 14.5 -403.8\\ 13.7 -412.6\\ 12.9 -400.5\\ 12.1 -391.7\\
11.3 -389.5\\ 10.4 -393.9\\ 9.6 -392.8\\ 8.8 -398.3\\ 8.0 -403.8\\ 7.2 -397.2\\
6.4 -400.5\\ 5.5 -393.9\\ 4.7 -398.3\\ 3.9 -395.0\\ 3.1 -396.1\\ 2.3 -393.9\\
1.5 -398.3\\ 0.6 -392.8\\
}\ddTable

\begin{document}
\begin{tikzpicture}
\path[use as bounding box] (-1.382,-1.009) rectangle (14.908,9.641);

% frame, x axis and interglacial bands
\begin{axis}[base, name=main, ymin=0, ymax=1, axis on top,
  xtick={0,100,200,300,400,500,600}, xticklabels={0,100,200,300,400,500,600},
  minor xtick={20,40,...,640}, xtick pos=bottom, ytick=\empty,
  xticklabel style={yshift=-0.15cm}]
\addplot[fill=bandgray, draw=none] coordinates {(423.2,1) (394.1,1)} \closedcycle;
\addplot[fill=bandgray, draw=none] coordinates {(338.3,1) (325.3,1)} \closedcycle;
\addplot[fill=bandgray, draw=none] coordinates {(244.7,1) (239.3,1)} \closedcycle;
\addplot[fill=bandgray, draw=none] coordinates {(130.4,1) (114.0,1)} \closedcycle;
\addplot[fill=bandgray, draw=none] coordinates {(12.4,1) (0.0,1)} \closedcycle;
\end{axis}

% CO2
\begin{axis}[dataax, ymin=-186.4, ymax=548, axis y line*=left,
  ytick={200,240,280,320,360}, yticklabels={200,240,280,320,360},
  minor ytick={180,220,260,300,340,380},
  yticklabel style={xshift=-0.09cm}]
\addplot[co2red, line width=0.75pt, line join=round] table[x=x, y=y] {\coTable};
\addplot[co2red, line width=1.2pt] coordinates {(1.0,281.3) (0.6,286.5) (0.3,332.7) (0.0,378.9)};
\end{axis}

% deltaD
\begin{axis}[dataax, ymin=-450.3, ymax=-135.1, axis y line*=left,
  ytick={-440,-420,-400,-380,-360}, yticklabels={-440,-420,-400,-380,-360},
  minor ytick={-430,-410,-390,-370},
  yticklabel style={xshift=-0.09cm}]
\addplot[black, line width=0.45pt, const plot] table[x=x, y=y] {\ddTable};
\end{axis}

% N2O
\begin{axis}[dataax, ymin=-149.6, ymax=341.4, axis y line*=right,
  ytick={200,240,280,320}, yticklabels={200,240,280,320},
  minor ytick={220,260,300},
  yticklabel style={xshift=0.08cm}]
\addplot[n2ogreen, line width=0.75pt, line join=round, unbounded coords=jump] table[x=x, y=y] {\noTable};
\addplot[n2ogreen, line width=1.2pt] coordinates {(1.0,269.5) (0.6,274.7) (0.2,290.0) (0.0,319.0)};
\end{axis}

% CH4
\begin{axis}[dataax, ymin=-1110.6, ymax=3824.8, axis y line*=right,
  ytick={400,600,800,1000,1200,1400,1600}, yticklabels={400,600,800,1000,1200,1400,1600},
  minor ytick={300,500,700,900,1100,1300,1500,1700},
  yticklabel style={xshift=0.08cm}]
\addplot[ch4line, line width=0.9pt, line join=round] table[x=x, y=y] {\chTable};
\addplot[ch4line, line width=1.3pt] coordinates {(1.0,670.1) (0.6,739.1) (0.3,808.0) (0.0,1717.0)};
\end{axis}

% labels
\node[rotate=90, font=\labfont] at (-1.097,6.08) {CO\textsubscript{2} (ppm)};
\node[rotate=90, font=\labfont] at (-1.072,1.86) {{\mdseries δ}D (‰)};
\node[rotate=90, font=\labfont] at (14.738,7.98) {N\textsubscript{2}O (ppb)};
\node[rotate=90, font=\labfont] at (14.72,3.93) {CH\textsubscript{4} (ppb)};
\node[font=\labfont] at (6.678,-0.84) {Time (thousands of years before present)};
\node[anchor=base west, inner sep=0pt, font=\bigfont, text=co2orange] at (1.40,6.09) {CO\raisebox{-0.15cm}{\fontsize{11.5}{12}\selectfont 2}};
\node[anchor=base west, inner sep=0pt, font=\bigfont, text=ch4blue] at (1.415,3.64) {CH\raisebox{-0.15cm}{\fontsize{11.5}{12}\selectfont 4}};
\end{tikzpicture}
\end{document}
